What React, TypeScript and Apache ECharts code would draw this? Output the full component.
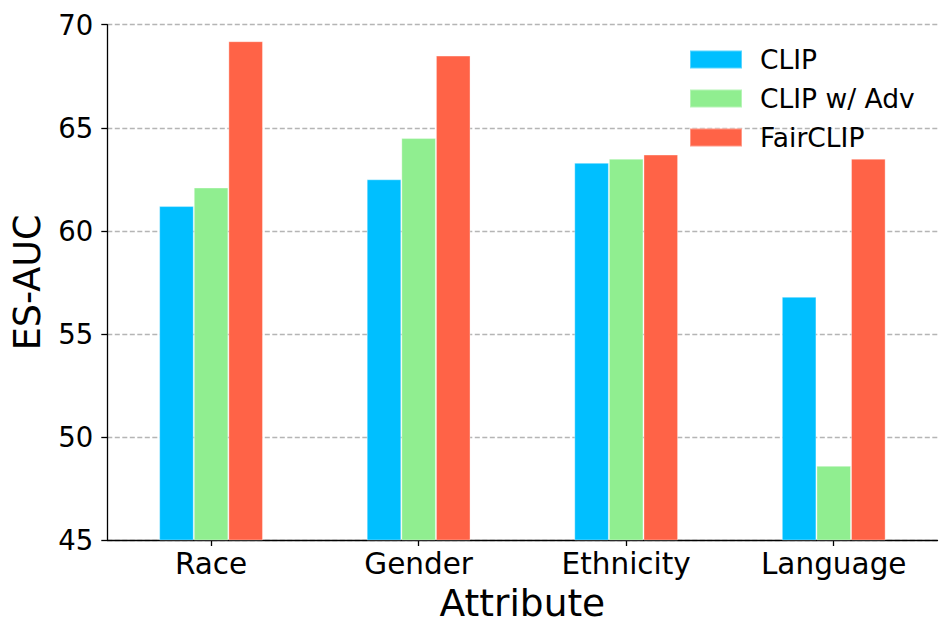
import React, { useEffect, useRef } from "react";
import * as echarts from "echarts";

const categories = ["Race", "Gender", "Ethnicity", "Language"];
const clipValues = [61.2, 62.5, 63.3, 56.8];
const clipAdvValues = [62.1, 64.5, 63.5, 48.6];
const fairClipValues = [69.2, 68.5, 63.7, 63.5];
const seriesNames = ["CLIP", "CLIP w/ Adv", "FairCLIP"];
const seriesColors = ["#00BFFF", "#90EE90", "#FF6347"];

const FONT = "DejaVu Sans";

export default function App() {
  const ref = useRef<HTMLDivElement>(null);
  useEffect(() => {
    if (!ref.current) return;
    const chart = echarts.init(ref.current, null, { renderer: "svg" });
    const data = [clipValues, clipAdvValues, fairClipValues];
    chart.setOption({
      animation: false,
      backgroundColor: "#ffffff",
      textStyle: { fontFamily: FONT },
      grid: { left: 107.3, right: 13.5, top: 24.7, bottom: 99, containLabel: false },
      legend: {
        left: 689,
        top: 46,
        padding: 0,
        orient: "vertical",
        itemWidth: 52,
        itemHeight: 18,
        itemGap: 12,
        icon: "rect",
        textStyle: { fontFamily: FONT, fontSize: 26.5, color: "#000", padding: [0, 0, 0, 13] },
        data: seriesNames,
      },
      xAxis: {
        type: "category",
        data: categories,
        name: "Attribute",
        nameLocation: "middle",
        nameGap: 44,
        nameTextStyle: { fontFamily: FONT, fontSize: 37.5, color: "#000" },
        axisLine: { show: true, lineStyle: { color: "#000", width: 1.3 } },
        axisTick: { show: true, alignWithLabel: true, length: 6, lineStyle: { color: "#000", width: 1.3 } },
        axisLabel: { fontFamily: FONT, fontSize: 29.5, color: "#000", margin: 9 },
        splitLine: { show: false },
      },
      yAxis: {
        type: "value",
        min: 45,
        max: 70,
        interval: 5,
        name: "ES-AUC",
        nameLocation: "middle",
        nameGap: 61,
        nameTextStyle: { fontFamily: FONT, fontSize: 36.5, color: "#000" },
        axisLine: { show: true, lineStyle: { color: "#000", width: 1.3 } },
        axisTick: { show: true, length: 6, lineStyle: { color: "#000", width: 1.3 } },
        axisLabel: { fontFamily: FONT, fontSize: 27.5, color: "#000", margin: 14 },
        splitLine: { show: true, lineStyle: { color: "#b5b5b5", width: 1.3, type: [5, 2.5] } },
      },
      series: seriesNames.map((name, i) => ({
        name,
        type: "bar",
        data: data[i],
        barWidth: 34.6,
        barGap: "0%",
        itemStyle: { color: seriesColors[i], borderColor: "rgba(255,255,255,0.35)", borderWidth: 1 },
      })),
    });
    return () => chart.dispose();
  }, []);
  return (
    <div
      ref={ref}
      style={{ position: "fixed", left: 0, top: 0, width: 951, height: 639 }}
    />
  );
}
